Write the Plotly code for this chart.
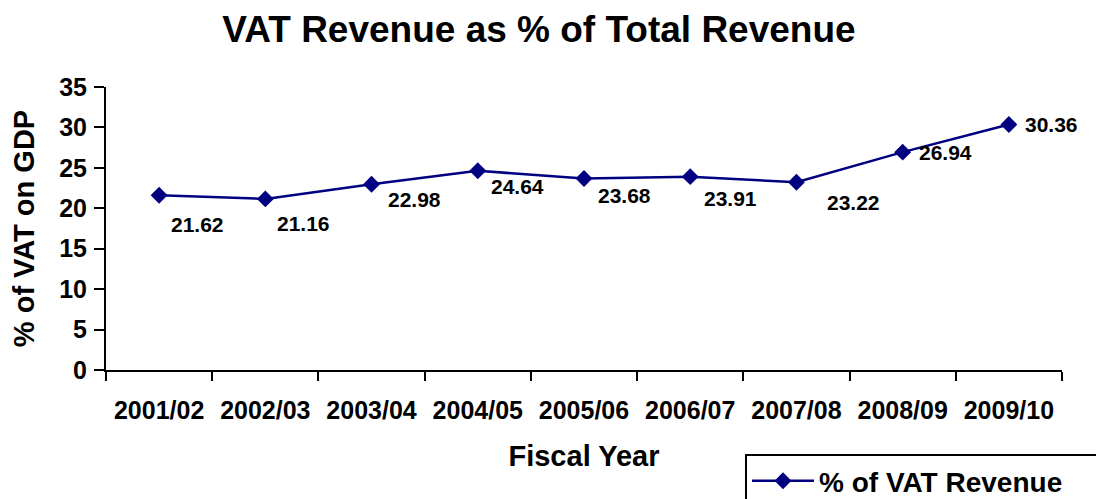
import plotly.graph_objects as go

years = ["2001/02", "2002/03", "2003/04", "2004/05", "2005/06",
         "2006/07", "2007/08", "2008/09", "2009/10"]
vat_share = [21.62, 21.16, 22.98, 24.64, 23.68, 23.91, 23.22, 26.94, 30.36]
series_name = "% of VAT Revenue"

# label offsets in pixels (dx right, dy down) relative to each point
label_dx = [38, 38, 43, 40, 40, 40, 57, 43, 43]
label_dy = [29, 25, 15, 16, 17, 22, 20, 0, 0]

NAVY = "#000080"
FONT = "Liberation Sans, Arial, sans-serif"

# the page body has an 8px margin; size the figure to fit the window
W, H, OFF = 1096, 491, 8
PL, PR, PT, PB = 106 - OFF, 1062 - OFF, 87 - OFF, 370 - OFF

fig = go.Figure()
fig.add_trace(go.Scatter(
    x=years, y=vat_share, mode="lines+markers", name=f"<b>{series_name}</b>",
    line=dict(color=NAVY, width=2.5),
    marker=dict(symbol="diamond", size=13, color=NAVY),
))

for xv, yv, dx, dy in zip(years, vat_share, label_dx, label_dy):
    fig.add_annotation(
        x=xv, y=yv, text=f"<b>{yv:.2f}</b>", showarrow=False,
        xshift=dx, yshift=-dy, xanchor="center", yanchor="middle",
        font=dict(family=FONT, size=21, color="black"),
    )

fig.update_layout(
    width=W, height=H,
    margin=dict(l=PL, r=W - PR, t=PT, b=H - PB, autoexpand=False),
    paper_bgcolor="white", plot_bgcolor="white",
    font=dict(family=FONT, color="black"),
    title=dict(text="<b>VAT Revenue as % of Total Revenue</b>",
               x=(539 - OFF) / W, xref="container", xanchor="center",
               y=1 - (29 - OFF) / H, yref="container", yanchor="middle",
               font=dict(family=FONT, size=37, color="black")),
    showlegend=True,
    legend=dict(x=(745 - 106) / 956, xanchor="left",
                y=(370 - 454) / 283, yanchor="top",
                bordercolor="black", borderwidth=2, bgcolor="white",
                font=dict(family=FONT, size=28, color="black"),
                orientation="h", itemwidth=62, entrywidth=290),
)

fig.update_xaxes(
    type="category", range=[-0.5, 8.5], tickson="boundaries",
    ticks="outside", ticklen=9, tickwidth=2, tickcolor="black",
    showline=True, linecolor="black", linewidth=2, showgrid=False,
    automargin=False,
    tickfont=dict(family=FONT, size=25, color="black"),
    ticklabelstandoff=17,
    tickvals=years, ticktext=[f"<b>{y}</b>" for y in years],
    title=dict(text="<b>Fiscal Year</b>", standoff=23,
               font=dict(family=FONT, size=29, color="black")),
)
fig.update_yaxes(
    range=[0, 35], dtick=5, tick0=0,
    ticks="outside", ticklen=10, tickwidth=2, tickcolor="black",
    showline=True, linecolor="black", linewidth=2, showgrid=False,
    zeroline=False, automargin=False,
    tickfont=dict(family=FONT, size=25, color="black"),
    ticklabelstandoff=2,
    tickprefix="<b>", ticksuffix="</b>",
    title=dict(text="<b>% of VAT on GDP</b>", standoff=16,
               font=dict(family=FONT, size=29, color="black")),
)

fig.write_html("out.html")
